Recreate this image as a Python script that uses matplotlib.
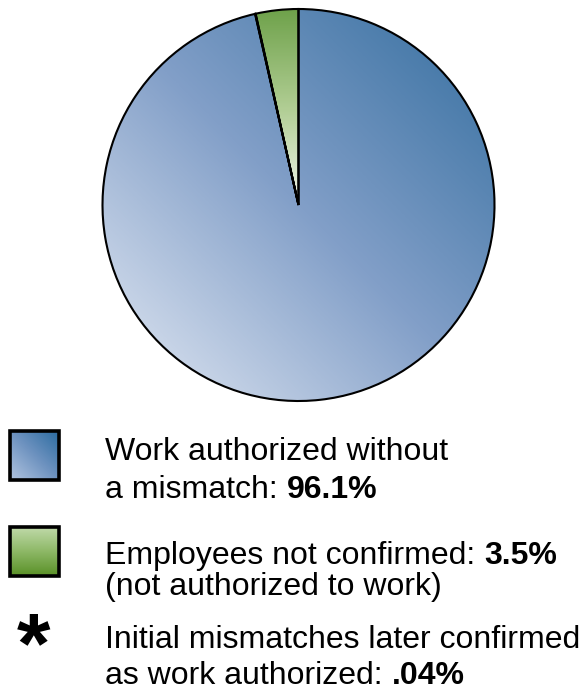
import numpy as np
import matplotlib.pyplot as plt
from matplotlib.colors import LinearSegmentedColormap
from matplotlib.patches import Rectangle

plt.rcParams['font.family'] = ['Liberation Sans', 'DejaVu Sans']

# Data
labels = ['Employees not confirmed', 'Initial mismatches later confirmed', 'Work authorized without a mismatch']
values = [3.5, 0.04, 96.1]

# Legend text (normal part, bold part) per line
legend_lines = [
    ('Work authorized without', ''),
    ('a mismatch: ', '96.1%'),
    ('Employees not confirmed: ', '3.5%'),
    ('(not authorized to work)', ''),
    ('Initial mismatches later confirmed', ''),
    ('as work authorized: ', '.04%'),
]
line_baselines = [460, 498, 564, 595, 648, 684]

W, H = 581, 691
fig = plt.figure(figsize=(W / 100, H / 100), dpi=100)
ax = fig.add_axes([0, 0, 1, 1])


def Y(y):
    # image rows (from top) -> data y (from bottom)
    return H - y


blue_cmap = LinearSegmentedColormap.from_list('blue', [(0, '#e4eaf4'), (0.5, '#829fc8'), (1, '#346e9f')])
green_cmap = LinearSegmentedColormap.from_list('green', ['#f2f6ec', '#b0cd93', '#6fa24b'])
box_blue = LinearSegmentedColormap.from_list('bb', ['#b0c3df', '#6f93c0', '#2c6ca1'])
box_green = LinearSegmentedColormap.from_list('bg', ['#5a9128', '#8db866', '#bfd9a8'])

# Pie
cx, cy, r = 298.5, Y(205), 196
wedges, _ = ax.pie(values, colors=['none', 'none', 'none'], startangle=90,
                   counterclock=True, center=(cx, cy), radius=r,
                   wedgeprops=dict(edgecolor='black', linewidth=1.5))

xs = np.linspace(cx - r, cx + r, 300)
ys = np.linspace(cy - r, cy + r, 300)
X, YY = np.meshgrid(xs, ys)

t_blue = np.clip(((X - (cx - r)) + (YY - (cy - r))) / (4 * r), 0, 1)
for w in (wedges[2], wedges[1]):
    im = ax.imshow(t_blue, extent=(cx - r, cx + r, cy - r, cy + r), origin='lower',
                   cmap=blue_cmap, vmin=0, vmax=1, zorder=0.5)
    im.set_clip_path(w)

t_green = np.clip((YY - cy) / r, 0, 1)
img = ax.imshow(t_green, extent=(cx - r, cx + r, cy - r, cy + r), origin='lower',
                cmap=green_cmap, vmin=0, vmax=1, zorder=0.5)
img.set_clip_path(wedges[0])

# Legend boxes
bx, bs = 10, 49
for top, cmap, kind in [(431, box_blue, 'diag'), (527, box_green, 'vert')]:
    gx, gy = np.meshgrid(np.linspace(0, 1, 50), np.linspace(0, 1, 50))
    g = (gx + gy) / 2 if kind == 'diag' else gy
    ax.imshow(g, extent=(bx, bx + bs, Y(top + bs), Y(top)), origin='lower',
              cmap=cmap, vmin=0, vmax=1, zorder=1)
    ax.add_patch(Rectangle((bx, Y(top + bs)), bs, bs, facecolor='none',
                           edgecolor='black', linewidth=2.6, zorder=2))

# Asterisk, baseline kept high enough that its text box stays in the figure
ax.text(34, Y(672), '*', fontsize=62, fontweight='bold', ha='center',
        va='baseline')

# Legend text
for (norm, bold), base in zip(legend_lines, line_baselines):
    t = ax.text(105, Y(base), norm, fontsize=23, va='baseline', ha='left')
    if bold:
        ax.annotate(bold, xy=(1, 0), xycoords=t, va='bottom', ha='left',
                    fontsize=23, fontweight='bold')

ax.set_xlim(0, W)
ax.set_ylim(0, H)
ax.set_aspect('auto')
ax.axis('off')

fig.savefig('out.png', dpi=100)
